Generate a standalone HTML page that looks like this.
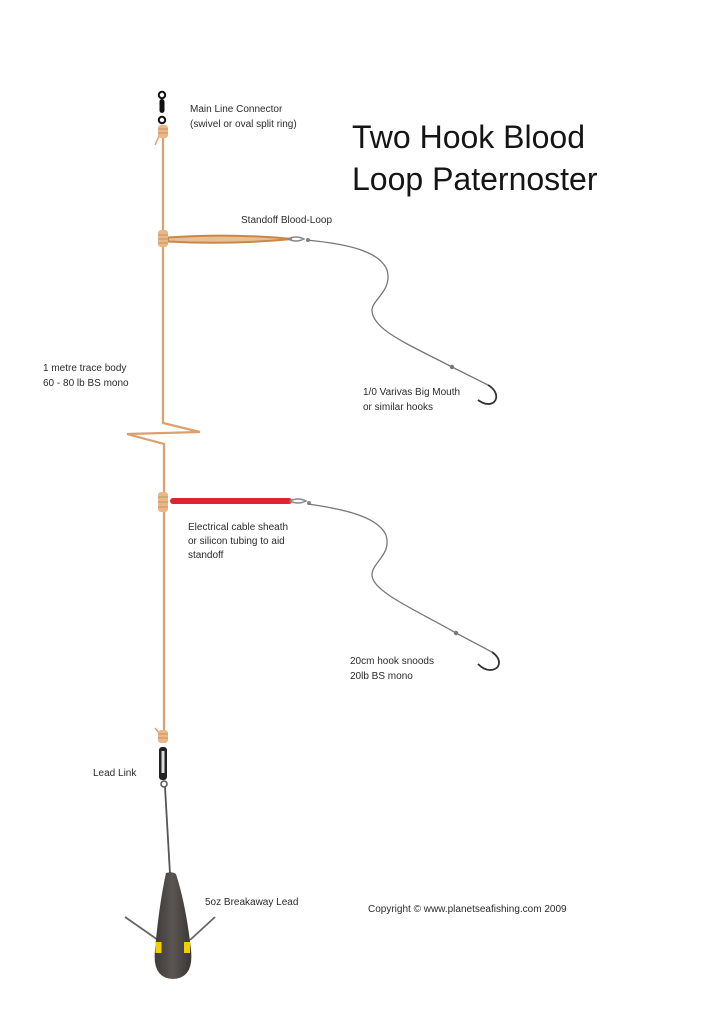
<!DOCTYPE html>
<html><head><meta charset="utf-8"><style>
html,body{margin:0;padding:0;background:#fff;}
svg{display:block;}
text{font-family:"Liberation Sans",sans-serif;fill:#2b2b2b;}
</style></head><body>
<svg width="704" height="1024" viewBox="0 0 704 1024" xmlns="http://www.w3.org/2000/svg">
<rect width="704" height="1024" fill="#fff"/>
<!-- Title -->
<text x="352" y="148" font-size="32" style="fill:#151515">Two Hook Blood</text>
<text x="352" y="190" font-size="32" style="fill:#151515">Loop Paternoster</text>

<!-- main line -->
<path d="M163 138 L163 423 L200 432 L127 434 L164 444 L164 740" fill="none" stroke="#dca06c" stroke-width="2.2"/>
<!-- tag end top -->
<path d="M159 136 L155 145" stroke="#dca06c" stroke-width="1.5"/>
<!-- top knot -->
<rect x="158" y="125" width="10" height="13" rx="3" fill="#e8b889"/>
<path d="M158 129 H168 M158 133 H168" stroke="#c9935e" stroke-width="1"/>
<!-- swivel -->
<circle cx="162" cy="95" r="3.2" fill="none" stroke="#111" stroke-width="2"/>
<rect x="159.5" y="99" width="5" height="14" rx="2.5" fill="#111"/>
<circle cx="162" cy="120" r="3.2" fill="none" stroke="#111" stroke-width="2"/>

<!-- standoff loop -->
<path d="M168 237.5 Q230 233 292 239 Q230 245 168 241.5 Z" fill="#e9bf95" stroke="#c98848" stroke-width="2"/>
<rect x="158" y="230" width="10" height="17" rx="3" fill="#e8b889"/>
<path d="M158 235 H168 M158 239 H168 M158 243 H168" stroke="#c9935e" stroke-width="1"/>
<!-- small swivel -->
<path d="M288 239 Q296 235 304 239 Q296 243 288 239 Z" fill="none" stroke="#888" stroke-width="1.5"/>
<circle cx="308" cy="240" r="2" fill="#888"/>
<!-- snood 1 -->
<path d="M306 240 C350 244 380 252 387 270 C393 290 372 300 372 310 C372 330 410 345 452 367 L488 385 C500 392 498 404 488 404 C484 404 481 402 478 400" fill="none" stroke="#777" stroke-width="1.3"/>
<path d="M488 385 C500 392 498 404 488 404 C484 404 481 402 478 400" fill="none" stroke="#333" stroke-width="1.8"/>
<circle cx="452" cy="367" r="2.2" fill="#777"/>

<!-- second knot + red sheath -->
<rect x="170" y="498" width="122" height="6" rx="3" fill="#e0242c"/>
<rect x="158" y="492" width="10" height="20" rx="3" fill="#e8b889"/>
<path d="M158 497 H168 M158 502 H168 M158 507 H168" stroke="#c9935e" stroke-width="1"/>
<path d="M290 501 Q298 497 306 501 Q298 505 290 501 Z" fill="none" stroke="#888" stroke-width="1.5"/>
<circle cx="309" cy="503" r="2" fill="#888"/>
<!-- snood 2 -->
<path d="M308 504 C350 510 378 518 386 535 C392 555 372 562 372 575 C372 592 420 612 456 633 L492 652 C503 660 500 670 490 670 C485 670 481 667 478 664" fill="none" stroke="#777" stroke-width="1.3"/>
<path d="M492 652 C503 660 500 670 490 670 C485 670 481 667 478 664" fill="none" stroke="#333" stroke-width="1.8"/>
<circle cx="456" cy="633" r="2.2" fill="#777"/>

<!-- lead link -->
<path d="M159 733 L155 728" stroke="#dca06c" stroke-width="1.5"/>
<rect x="158" y="730" width="10" height="13" rx="3" fill="#e8b889"/>
<path d="M158 734 H168 M158 738 H168" stroke="#c9935e" stroke-width="1"/>
<rect x="159" y="747" width="8" height="33" rx="3" fill="#222"/>
<rect x="161.5" y="751" width="3" height="22" fill="#ddd"/>
<circle cx="164" cy="784" r="3" fill="none" stroke="#555" stroke-width="1.5"/>
<path d="M165 787 L170 874" stroke="#555" stroke-width="1.8"/>
<!-- lead wires -->
<path d="M125 917 L158 940 M190 940 L215 917" stroke="#666" stroke-width="1.8"/>
<!-- lead body -->
<defs><linearGradient id="lg" x1="0" x2="1" y1="0" y2="0">
<stop offset="0" stop-color="#3e3a38"/><stop offset="0.5" stop-color="#5a5552"/><stop offset="1" stop-color="#3a3634"/></linearGradient></defs>
<path d="M166 873 Q172 871 176 874 Q186 905 191 950 Q194 978 173 979 Q152 978 155 950 Q159 905 166 873 Z" fill="url(#lg)"/>
<rect x="155.5" y="942" width="6" height="11" fill="#f2d000"/>
<rect x="184" y="942" width="6" height="11" fill="#f2d000"/>

<!-- labels -->
<g font-size="10">
<text x="190" y="112">Main Line Connector</text>
<text x="190" y="127">(swivel or oval split ring)</text>
<text x="241" y="223">Standoff Blood-Loop</text>
<text x="43" y="371">1 metre trace body</text>
<text x="43" y="386">60 - 80 lb BS mono</text>
<text x="363" y="395">1/0 Varivas Big Mouth</text>
<text x="363" y="410">or similar hooks</text>
<text x="188" y="530">Electrical cable sheath</text>
<text x="188" y="544">or silicon tubing to aid</text>
<text x="188" y="558">standoff</text>
<text x="350" y="664">20cm hook snoods</text>
<text x="350" y="679">20lb BS mono</text>
<text x="93" y="776">Lead Link</text>
<text x="205" y="905">5oz Breakaway Lead</text>
<text x="368" y="912">Copyright © www.planetseafishing.com 2009</text>
</g>
</svg>
</body></html>
